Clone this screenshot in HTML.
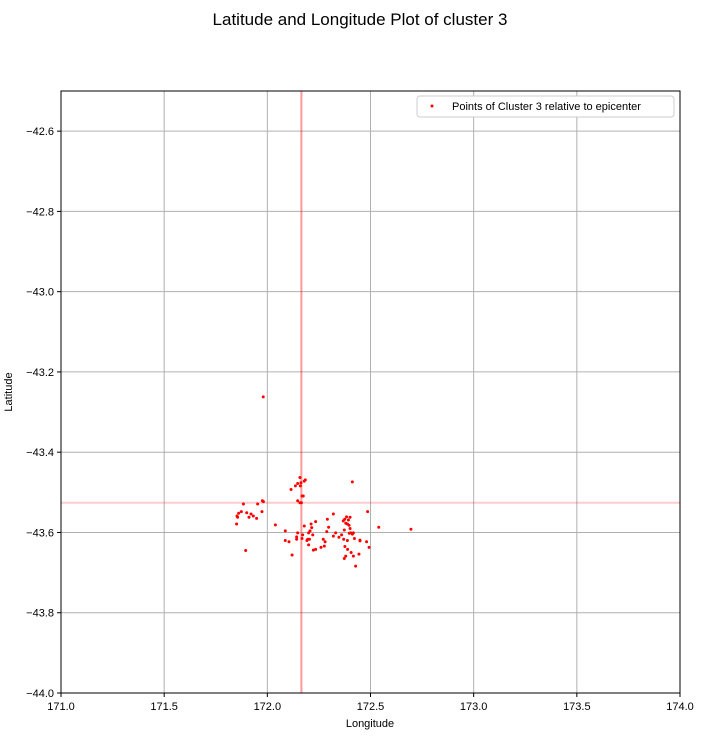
<!DOCTYPE html>
<html><head><meta charset="utf-8"><style>
body{margin:0;background:#fff;font-family:"Liberation Sans","DejaVu Sans",sans-serif}
</style></head><body>
<svg id="chart" width="703" height="738" xmlns="http://www.w3.org/2000/svg" font-family="Liberation Sans, DejaVu Sans, sans-serif">
<text x="360" y="25" font-size="17" text-anchor="middle">Latitude and Longitude Plot of cluster 3</text>
<g id="grid"></g><g id="ref"></g><g id="pts"></g><g id="ticks"></g>
<rect x="61" y="91" width="619" height="602" fill="none" stroke="#000" stroke-width="1"/>
<text x="370" y="727" font-size="11" text-anchor="middle">Longitude</text>
<text x="12" y="392" font-size="11" text-anchor="middle" transform="rotate(-90 12 392)">Latitude</text>
<g>
<rect x="417" y="96" width="257" height="21" rx="3" fill="#fff" stroke="#ccc"/>
<circle cx="432" cy="106" r="1.5" fill="red"/>
<text x="452" y="110" font-size="11">Points of Cluster 3 relative to epicenter</text>
</g>
</svg>
<script>
const lons=[172.158,172.163,172.184,172.179,172.147,172.136,172.160,172.115,172.168,172.174,172.147,172.158,172.165,171.884,171.953,171.976,171.981,171.974,171.874,171.861,171.900,171.921,171.932,171.911,171.948,171.853,171.856,171.851,172.039,172.179,172.234,172.212,172.215,172.207,172.200,172.291,172.320,172.297,172.288,172.087,172.147,172.142,172.142,172.171,172.168,172.196,172.204,172.192,172.220,172.271,172.280,172.320,172.331,172.347,172.087,172.105,172.200,172.223,172.234,172.260,172.276,171.895,172.120,
172.412,172.486,172.540,172.696,172.384,172.375,172.393,172.368,172.401,172.380,172.388,172.396,172.401,172.373,172.404,172.417,172.412,172.397,172.360,172.422,172.449,172.449,172.481,172.493,172.370,172.388,172.376,172.389,172.406,172.417,172.444,172.380,172.373,172.428,171.980];
const lats=[-43.463,-43.476,-43.469,-43.472,-43.478,-43.484,-43.484,-43.493,-43.509,-43.509,-43.521,-43.526,-43.526,-43.529,-43.529,-43.521,-43.523,-43.548,-43.548,-43.552,-43.551,-43.554,-43.559,-43.562,-43.565,-43.559,-43.562,-43.579,-43.581,-43.584,-43.573,-43.579,-43.588,-43.596,-43.601,-43.567,-43.554,-43.587,-43.598,-43.596,-43.601,-43.611,-43.617,-43.606,-43.615,-43.617,-43.617,-43.620,-43.606,-43.617,-43.623,-43.609,-43.601,-43.612,-43.620,-43.623,-43.631,-43.644,-43.642,-43.637,-43.634,-43.645,-43.656,
-43.474,-43.548,-43.587,-43.592,-43.561,-43.567,-43.569,-43.571,-43.562,-43.577,-43.579,-43.582,-43.590,-43.594,-43.601,-43.601,-43.604,-43.602,-43.606,-43.615,-43.619,-43.621,-43.623,-43.637,-43.617,-43.620,-43.635,-43.642,-43.650,-43.659,-43.654,-43.659,-43.665,-43.684,-43.262];
const epicenter=[172.165,-43.526];
const xTicks=[171.0,171.5,172.0,172.5,173.0,173.5,174.0];
const yTicks=[-42.6,-42.8,-43.0,-43.2,-43.4,-43.6,-43.8,-44.0];
const NS='http://www.w3.org/2000/svg';
const X=v=>61+(v-171)/3*619, Y=v=>91+(-42.5-v)/1.5*602;
function mk(t,a,p){const e=document.createElementNS(NS,t);for(const k in a)e.setAttribute(k,a[k]);document.getElementById(p).appendChild(e);return e;}
xTicks.forEach(t=>{const x=X(t);
 const g=mk('line',{x1:x,x2:x,y1:91,y2:693,stroke:'#b0b0b0','stroke-width':1},'grid');
 
 
 mk('line',{x1:x,x2:x,y1:693,y2:697,stroke:'#000'},'ticks');
 const l=mk('text',{x:x,y:710,'font-size':11,'text-anchor':'middle'},'ticks');l.textContent=t.toFixed(1);
 
 });
yTicks.forEach(t=>{const y=Y(t);
 const g=mk('line',{x1:61,x2:680,y1:y,y2:y,stroke:'#b0b0b0','stroke-width':1},'grid');
 
 
 mk('line',{x1:57,x2:61,y1:y,y2:y,stroke:'#000'},'ticks');
 const l=mk('text',{x:54,y:y+4,'font-size':11,'text-anchor':'end'},'ticks');l.textContent='\u2212'+Math.abs(t).toFixed(1);
 
 });
const vl=mk('line',{x1:X(epicenter[0]),x2:X(epicenter[0]),y1:91,y2:693,stroke:'red','stroke-opacity':0.4,'stroke-width':2},'ref');


const hl=mk('line',{x1:61,x2:680,y1:Y(epicenter[1]),y2:Y(epicenter[1]),stroke:'red','stroke-opacity':0.2,'stroke-width':2},'ref');


lons.forEach((v,i)=>{const c=mk('circle',{cx:X(v),cy:Y(lats[i]),r:1.5,fill:'red'},'pts');
 
 });
</script>
</body></html>
